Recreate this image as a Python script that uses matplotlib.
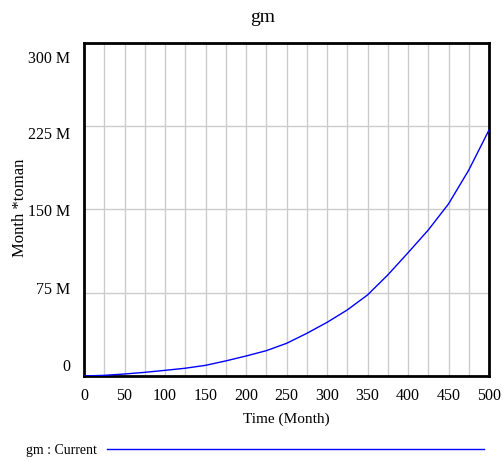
import numpy as np
import matplotlib
matplotlib.use("Agg")
import matplotlib.pyplot as plt
import matplotlib.transforms as mtransforms

# values (gm, millions of toman, every 25 months)
months = [0, 25, 50, 75, 100, 125, 150, 175, 200, 225, 250,
          275, 300, 325, 350, 375, 400, 425, 450, 475, 500]
gm_millions = [0, 0.6, 1.8, 3.3, 5.1, 7.0, 9.6, 13.6, 18.0, 22.8, 29.4,
               38.4, 48.3, 59.5, 73.0, 91.0, 111.0, 131.5, 155.0, 185.5, 221.6]

x_ticks = [0, 50, 100, 150, 200, 250, 300, 350, 400, 450, 500]
y_ticks = [0, 75e6, 150e6, 225e6, 300e6]
y_tick_labels = ["0", "75 M", "150 M", "225 M", "300 M"]
# Vensim-style label nudges (pixels, negative = down)
y_label_shift = [11, 5, -1, -7, -14]

plt.rcParams.update({
    "font.family": ["Liberation Serif", "DejaVu Serif"],
    "font.size": 11,
})

fig = plt.figure(figsize=(5.03, 4.61), dpi=100)
ax = fig.add_axes([84 / 503, 1 - 376 / 461, (489 - 84) / 503, (376 - 43) / 461])

values = np.array(gm_millions) * 1e6
ax.plot(months, values, color="#0000ff", linewidth=1.0, zorder=3)

ax.set_xlim(0, 500)
ax.set_ylim(0, 300e6)

ax.set_xticks(x_ticks)
ax.set_xticks(np.arange(0, 501, 25), minor=True)
ax.set_yticks(y_ticks)
ax.set_yticklabels(y_tick_labels)

ax.grid(True, which="both", axis="x", color="#cccccc", linewidth=1.0)
ax.grid(True, which="major", axis="y", color="#cccccc", linewidth=1.0)
ax.set_axisbelow(True)

ax.tick_params(axis="both", which="both", length=0)
ax.tick_params(axis="x", pad=9, labelsize=11.5)
ax.tick_params(axis="y", pad=10, labelsize=11.5)

for lab, dy in zip(ax.get_yticklabels(), y_label_shift):
    lab.set_transform(lab.get_transform() +
                      mtransforms.ScaledTranslation(0, dy / 100, fig.dpi_scale_trans))

for sp in ax.spines.values():
    sp.set_linewidth(2.0)
    sp.set_color("black")

ax.set_xlabel("Time (Month)", fontsize=11, labelpad=6)
fig.text(20 / 503, 1 - 208 / 461, "Month *toman", rotation=90,
         ha="center", va="center", fontsize=12)
fig.text(263 / 503, 1 - 18 / 461, "gm", ha="center", va="center", fontsize=14)

# legend line at the bottom
fig.text(97 / 503, 1 - 450 / 461, "gm : Current", ha="right", va="center", fontsize=10)
fig.add_artist(plt.Line2D([107 / 503, 484 / 503], [1 - 449 / 461, 1 - 449 / 461],
                          color="#0000ff", linewidth=1.0, transform=fig.transFigure))

fig.savefig("out.png", dpi=100)
